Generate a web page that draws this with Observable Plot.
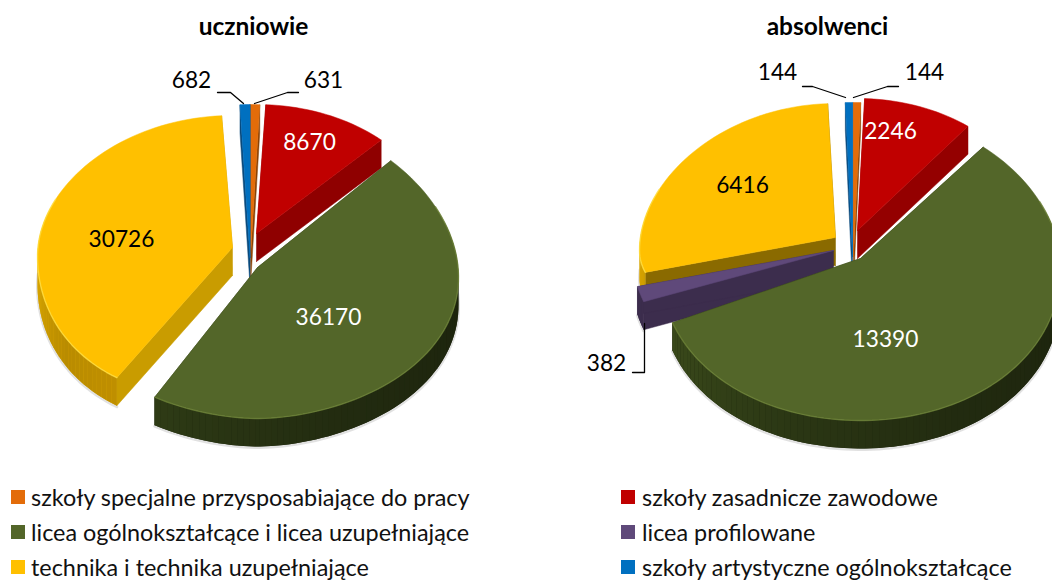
<!DOCTYPE html>
<html lang="pl">
<head>
<meta charset="utf-8">
<script src="https://cdn.jsdelivr.net/npm/d3@7"></script>
<script src="https://cdn.jsdelivr.net/npm/@observablehq/plot@0.6"></script>
<style>
html,body{margin:0;padding:0;background:#fff;overflow:hidden}
#chart{width:1052px;height:480px}
#legend{position:relative;width:1052px;height:100px;font-family:Lato,sans-serif;font-size:23.4px;color:#111}
#legend span{position:absolute;white-space:nowrap;line-height:24px}
#legend i{position:absolute;width:14px;height:14px}
svg text{font-family:Lato,sans-serif}
</style>
</head>
<body>
<div id="chart"></div>
<div id="legend"></div>
<script>
// Categories in pie order, clockwise from 12 o'clock
const categories = ["szkoły specjalne przysposabiające do pracy","szkoły zasadnicze zawodowe","licea ogólnokształcące i licea uzupełniające","licea profilowane","technika i technika uzupełniające","szkoły artystyczne ogólnokształcące"];
const uczniowie = [631, 8670, 36170, 0, 30726, 682];
const absolwenci = [144, 2246, 13390, 382, 6416, 144];
const topColors = ["#E36C09","#C00000","#536629","#5F497A","#FFC000","#0070C0"];
const cutColorsA = ["#8a4206","#8f0000","#2a3312","#3c2d4d","#c99c00","#0b4a7c"];
const cutColorsB = ["#8a4206","#940000","#2a3312","#3c2d4d","#8a6a00","#0b4a7c"];
const textColors = ["#000","#fff","#fff","#000","#000","#000"];

// Layout of the exploded pies, per slice: tipX, tipY, radiusX, radiusBack, radiusFront, sag, xPowerBack, xPowerFront
const layoutA = [[250,257,180,153,153,0,1,1],[256,233,181,129,129,0,1,1],[257,267,201,154,151,10,1.1,1.1],[0,0,0,0,0,0,1,1],[232,247,195,132,152,9,1,0.857],[249.5,257,180,153,153,0,1,1]];
const layoutB = [[853,256,180,154,154,0,1,1],[857,230,180,132,132,0,1,1],[860,258,200,146,162,10,1,1],[833,250,202,150,150,0,1,1],[835,237,196,134,94,13,1,1],[852,256,180,154,154,0,1,1]];
const depth = 28;
const labelsA = [[323,80],[309,142],[328,317],null,[121,239],[191,80]];
const labelsB = [[924,72],[890,131],[885,339],[606,363],[742,185],[777,72]];
const leadersA = [[[298,92],[287,92],[254,103]],null,null,null,null,[[217,92],[230,92],[243,103]]];
const leadersB = [[[898,86],[887,86],[853,97]],null,null,[[644,323],[644,372],[632,372]],null,[[802,86],[812,86],[845,97]]];
const titles = [["uczniowie",253,27],["absolwenci",827,27]];

// Shading of the outer wall along the angle (degrees)
const wallShade = {
  2: [[90,"#1c230d"],[150,"#222b10"],[200,"#2b3714"],[260,"#3d4d1c"]],
  3: [[240,"#3c2d4d"],[260,"#3c2d4d"]],
  4: [[210,"#c08f00"],[235,"#b98c00"],[270,"#d9a600"],[360,"#d9a600"]],
  1: [[0,"#8f0000"],[60,"#8f0000"]],
  0: [[0,"#8a4206"],[10,"#8a4206"]],
  5: [[350,"#0b4a7c"],[360,"#0b4a7c"]]
};
function shade(i, deg){
  const s = wallShade[i];
  if (deg <= s[0][0]) return s[0][1];
  for (let k = 1; k < s.length; k++) if (deg <= s[k][0]) return d3.interpolateRgb(s[k-1][1], s[k][1])((deg-s[k-1][0])/(s[k][0]-s[k-1][0]));
  return s[s.length-1][1];
}

function pieMarks(values, layout, cutColors, labels, leaders){
  const arcs = d3.pie().sort(null).value(d => d)(values);
  const order = [1,0,5,4,3,2]; // back to front
  const marks = [];
  const rim = (g, a) => {
    const u = Math.sin(a), v = Math.cos(a);
    const p = v > 0 ? g[6] : g[7];
    return {x: g[0] + g[2]*Math.sign(u)*Math.pow(Math.abs(u), p), y: g[1] + g[5]*u*u - (v > 0 ? g[3] : g[4])*v};
  };
  for (const i of order){
    if (!values[i]) continue;
    const arc = arcs[i], g = layout[i];
    const n = Math.max(2, Math.ceil((arc.endAngle-arc.startAngle)*90/Math.PI));
    const angles = d3.range(n+1).map(k => arc.startAngle + (arc.endAngle-arc.startAngle)*k/n);
    const pts = angles.map(a => rim(g, a));
    const tip = {x:g[0], y:g[1]};
    // soft shadow under the wall
    marks.push(Plot.line(pts.filter((p,k)=>Math.cos(angles[k])<0.1).map(p=>({x:p.x,y:p.y+depth+1})),{x:"x",y:"y",stroke:"#888",strokeWidth:3,strokeOpacity:0.25}));
    // cut faces
    for (const p of [pts[0], pts[n]]){
      const quad = [tip,p,{x:p.x,y:p.y+depth},{x:tip.x,y:tip.y+depth}];
      marks.push(Plot.line(quad,{x:"x",y:"y",fill:cutColors[i],stroke:cutColors[i],strokeWidth:0.5}));
    }
    // outer wall: base band, then pieces that carry the shading
    const front = pts.map((p,k)=>({p,k})).filter(d=>Math.cos(angles[d.k])<=0.35).map(d=>d.p);
    if (front.length > 1){
      const band = [...front, ...front.slice().reverse().map(p=>({x:p.x,y:p.y+depth}))];
      marks.push(Plot.line(band,{x:"x",y:"y",fill:shade(i,(arc.startAngle+arc.endAngle)*90/Math.PI)}));
    }
    const wall = [];
    for (let k = 0; k < n; k++){
      if (Math.cos(angles[k]) > 0.35 && Math.cos(angles[k+1]) > 0.35) continue;
      const c = shade(i, angles[k]*180/Math.PI);
      const a = pts[k], b = pts[k+1];
      for (const q of [a,b,{x:b.x,y:b.y+depth},{x:a.x,y:a.y+depth}]) wall.push({x:q.x,y:q.y,seg:k,c});
    }
    if (wall.length) marks.push(Plot.line(wall,{x:"x",y:"y",z:"seg",fill:"c",stroke:"none"}));
    // top face
    marks.push(Plot.line([tip,...pts,tip],{x:"x",y:"y",fill:topColors[i],stroke:topColors[i],strokeWidth:0.5}));
    // bevel highlight
    if (i===2 || i===4){
      const hl = pts.filter((p,k)=>Math.cos(angles[k])<0.45);
      marks.push(Plot.line(hl,{x:"x",y:"y",stroke:i===2?"#6f8539":"#ffe24a",strokeWidth:1.4,strokeOpacity:0.7}));
    }
  }
  values.forEach((v,i)=>{
    if (leaders[i]) marks.push(Plot.line(leaders[i].map(p=>({x:p[0],y:p[1]})),{x:"x",y:"y",stroke:"#000",strokeWidth:1.3}));
    if (labels[i]) marks.push(Plot.text([v],{x:()=>labels[i][0],y:()=>labels[i][1],text:d=>String(d),fill:textColors[i],fontSize:22.7,textAnchor:"middle"}));
  });
  return marks;
}

const plot = Plot.plot({
  width:1052,height:480,margin:0,
  x:{domain:[0,1052],axis:null},
  y:{domain:[480,0],axis:null},
  color:{type:"identity"},
  marks:[
    ...pieMarks(uczniowie,layoutA,cutColorsA,labelsA,leadersA),
    ...pieMarks(absolwenci,layoutB,cutColorsB,labelsB,leadersB),
    Plot.text(titles,{x:d=>d[1],y:d=>d[2],text:d=>d[0],fontSize:24.5,fontWeight:"bold",fill:"#000",textAnchor:"middle"})
  ]
});
document.getElementById("chart").append(plot);

// Legend: two columns, reading left-to-right
const legend = document.getElementById("legend");
const rowsTop = [17,52,87];
const cols = [[11,31],[621,642]];
categories.forEach((c,i)=>{
  const col = cols[i%2], top = rowsTop[Math.floor(i/2)];
  const sw = document.createElement("i");
  sw.style.cssText = `left:${col[0]}px;top:${top-7}px;background:${topColors[i]}`;
  const t = document.createElement("span");
  t.style.cssText = `left:${col[1]}px;top:${top-12}px`;
  t.textContent = c;
  legend.append(sw,t);
});
</script>
</body>
</html>
